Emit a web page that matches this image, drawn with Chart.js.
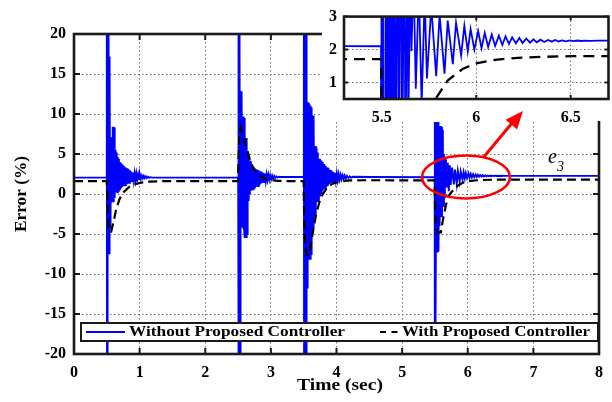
<!DOCTYPE html>
<html><head><meta charset="utf-8">
<script src="https://cdn.jsdelivr.net/npm/chart.js@4.4.1/dist/chart.umd.min.js"></script>
<style>
html,body{margin:0;padding:0;background:#fff;}
#wrap{position:relative;width:612px;height:402px;overflow:hidden;}
#wrap canvas{position:absolute;left:0;top:0;}
</style></head><body>
<div id="wrap"><canvas id="main" width="612" height="402"></canvas><canvas id="inset" width="612" height="402"></canvas></div>
<script>
// ---------------- data ----------------
const xTicks = [0, 1, 2, 3, 4, 5, 6, 7, 8];
const yTicks = [-20, -15, -10, -5, 0, 5, 10, 15, 20];
const insetXTicks = [5.5, 6, 6.5];
const insetYTicks = [1, 2, 3];
const seriesNames = ['Without Proposed Controller', 'With Proposed Controller'];
const xTitle = 'Time (sec)';
const yTitle = 'Error (%)';

// "Without Proposed Controller" (blue), [time, error %]
const blueSteady1 = [[0, 2.05], [0.499, 2.05]];
const blueEvent1 = [[0.500,20],[0.503,-20],[0.506,20],[0.509,-20],[0.512,20],[0.515,-20],[0.518,20],[0.521,-7.4],[0.524,20],[0.527,-7.4],[0.530,17.2],[0.534,-7.4],[0.538,17.2],[0.542,-5],[0.546,17.2],[0.550,-4.2],[0.555,7.1],[0.560,-2],[0.566,7.1],[0.572,-0.9],[0.578,7.0],[0.584,-0.9],[0.590,8.4],[0.596,-0.9],[0.602,8.4],[0.608,-0.8],[0.614,8.3],[0.620,-0.5],[0.627,5.5],[0.634,0.2],[0.641,5.2],[0.648,0.3],[0.655,4.6],[0.662,0.2],[0.669,4.6],[0.676,0.4],[0.684,4.4],[0.692,0.6],[0.700,4.0],[0.708,0.8],[0.716,3.9],[0.724,0.8],[0.733,3.7],[0.742,0.9],[0.751,3.5],[0.760,1.0],[0.769,3.4],[0.779,1.1],[0.789,3.3],[0.799,1.2],[0.809,3.2],[0.819,1.3],[0.830,3.1],[0.841,1.4],[0.852,2.95],[0.863,1.5],[0.875,2.8],[0.887,1.6],[0.899,2.7],[0.911,1.7],[0.924,2.6],[0.937,1.75],[0.950,2.55],[0.963,1.8],[0.977,2.45],[0.991,1.85],[1.005,2.4],[1.019,1.9],[1.034,2.3],[1.049,1.95],[1.064,2.25],[1.079,1.97],[1.095,2.2],[1.111,2.0],[1.128,2.15],[1.145,2.02],[1.165,2.1],[1.19,2.05]];
const blueSteady2 = [[1.3, 2.05], [2.502, 2.05]];
const blueEvent2 = [[2.503,20],[2.506,-20],[2.509,20],[2.512,-20],[2.515,20],[2.518,-20],[2.521,20],[2.524,-20],[2.527,20],[2.530,-20],[2.534,12.9],[2.538,-4.0],[2.542,12.9],[2.546,-4.0],[2.550,12.8],[2.554,-3.5],[2.558,12.5],[2.563,-4.0],[2.568,9.7],[2.573,-4.1],[2.578,9.7],[2.583,-4.1],[2.588,9.6],[2.593,-4.5],[2.598,9.5],[2.604,-5.5],[2.610,7.0],[2.616,-5.5],[2.622,7.0],[2.628,-5.5],[2.634,5.2],[2.640,-5.0],[2.646,5.0],[2.652,-0.75],[2.659,4.9],[2.666,-0.5],[2.673,4.2],[2.680,0.0],[2.688,4.1],[2.696,0.4],[2.704,3.7],[2.712,0.5],[2.720,3.5],[2.729,0.6],[2.738,3.4],[2.747,0.8],[2.756,3.2],[2.765,0.9],[2.775,3.1],[2.785,0.9],[2.795,3.0],[2.805,1.0],[2.815,2.95],[2.826,1.1],[2.837,2.85],[2.848,1.3],[2.860,2.75],[2.872,1.4],[2.884,2.65],[2.896,1.5],[2.909,2.55],[2.922,1.6],[2.935,2.45],[2.948,1.75],[2.962,2.4],[2.976,1.8],[2.990,2.35],[3.005,1.85],[3.020,2.3],[3.035,1.95],[3.050,2.25],[3.066,2.0],[3.082,2.2],[3.100,2.05],[3.12,2.15],[3.15,2.12]];
const blueSteady3 = [[3.3, 2.12], [3.502, 2.12]];
const blueEvent3 = [[3.503,20],[3.506,-20],[3.509,20],[3.512,-20],[3.515,20],[3.518,-20],[3.521,20],[3.524,-20],[3.527,20],[3.530,-20],[3.533,20],[3.536,-20],[3.540,20],[3.544,-11.7],[3.548,11.5],[3.552,-11.7],[3.556,11.5],[3.560,-11.5],[3.565,11.5],[3.570,-8.1],[3.575,11.4],[3.580,-8.1],[3.585,11.2],[3.590,-8.0],[3.595,11.0],[3.600,-8.1],[3.606,11.0],[3.612,-7.5],[3.618,10.8],[3.624,-4.4],[3.630,9.8],[3.636,-4.4],[3.642,9.8],[3.648,-4.3],[3.654,9.6],[3.660,-2.7],[3.666,6.0],[3.672,-2.7],[3.678,6.0],[3.684,-2.5],[3.690,5.8],[3.697,-1.0],[3.704,5.2],[3.711,-1.0],[3.718,5.0],[3.725,-0.9],[3.732,4.4],[3.740,-0.2],[3.748,4.4],[3.756,-0.2],[3.764,4.2],[3.772,0.0],[3.781,4.0],[3.790,0.4],[3.799,3.75],[3.808,0.6],[3.817,3.7],[3.827,0.7],[3.837,3.5],[3.847,0.9],[3.857,3.3],[3.868,1.0],[3.879,3.2],[3.890,1.25],[3.902,3.0],[3.914,1.35],[3.926,2.9],[3.938,1.45],[3.951,2.75],[3.964,1.55],[3.977,2.65],[3.990,1.7],[4.004,2.55],[4.018,1.75],[4.032,2.5],[4.047,1.8],[4.062,2.4],[4.077,1.85],[4.093,2.35],[4.109,1.9],[4.125,2.3],[4.142,1.95],[4.16,2.25],[4.18,2.0],[4.2,2.2],[4.22,2.05],[4.25,2.15]];
const blueSteady4 = [[4.5, 2.12], [5.496, 2.1]];
const blueEvent4 = [[5.497,9.0],[5.500,-17.5],[5.506,9.0],[5.509,-16.5],[5.523,9.0],[5.526,-7.3],[5.538,8.9],[5.541,-7.3],[5.551,9.0],[5.554,-7.2],[5.568,8.5],[5.571,-4.0],[5.586,8.5],[5.589,-2.9],[5.604,8.4],[5.607,-2.9],[5.621,8.0],[5.624,-1.5],[5.637,5.0],[5.640,-0.4],[5.651,4.5],[5.657,1.95],[5.668,4.3],[5.680,0.81],[5.696,3.9],[5.711,0.35],[5.727,3.6],[5.739,1.12],[5.762,3.3],[5.788,1.19],[5.806,3.05],[5.832,1.27],[5.849,2.88],[5.876,1.56],[5.893,2.81],[5.920,1.82],[5.937,2.72],[5.955,1.95],[5.970,2.62],[5.990,2.0],[6.010,2.56],[6.028,2.04],[6.045,2.51],[6.063,2.08],[6.082,2.46],[6.100,2.11],[6.120,2.42],[6.138,2.14],[6.155,2.40],[6.173,2.17],[6.190,2.37],[6.210,2.19],[6.228,2.35],[6.245,2.20],[6.265,2.33],[6.285,2.21],[6.303,2.31],[6.320,2.22],[6.340,2.30],[6.360,2.23],[6.380,2.29],[6.400,2.24],[6.418,2.29],[6.435,2.245],[6.455,2.28],[6.475,2.25],[6.495,2.28],[6.515,2.255],[6.535,2.275],[6.555,2.26],[6.575,2.27],[6.600,2.265],[6.65,2.27]];
const blueSteady5 = [[8.0, 2.27]];

// "With Proposed Controller" (black dashed), [time, error %]
const dashedSteady1 = [[0, 1.6], [0.499, 1.6]];
const dashedEvent1 = [[0.510,-1.0],[0.525,-4.0],[0.545,-4.7],[0.566,-4.7],[0.60,-3.6],[0.64,-2.0],[0.69,-0.7],[0.74,0.1],[0.79,0.5],[0.85,0.95],[0.94,1.25],[1.04,1.45],[1.15,1.55],[1.3,1.6]];
const dashedSteady2 = [[2.499, 1.6]];
const dashedEvent2 = [[2.505,4.0],[2.52,7.6],[2.54,8.3],[2.56,7.7],[2.60,6.6],[2.64,5.5],[2.69,4.0],[2.74,3.1],[2.80,2.4],[2.89,2.0],[3.0,1.75],[3.1,1.65],[3.2,1.62]];
const dashedSteady3 = [[3.499, 1.62]];
const dashedEvent3 = [[3.505,-2.0],[3.52,-6.0],[3.545,-7.6],[3.575,-7.7],[3.60,-6.8],[3.64,-4.8],[3.69,-2.5],[3.74,-1.0],[3.79,0.0],[3.86,0.8],[3.94,1.3],[4.05,1.55],[4.2,1.7],[4.4,1.72]];
const dashedSteady4 = [[5.496, 1.71]];
const dashedEvent4 = [[5.502,-2.0],[5.52,-4.4],[5.55,-4.8],[5.59,-4.8],[5.62,-3.3],[5.67,-1.3],[5.72,-0.1],[5.76,0.3],[5.79,0.55],[5.85,1.07],[5.93,1.42],[6.0,1.58],[6.1,1.69],[6.22,1.75],[6.36,1.78],[6.5,1.80]];
const dashedSteady5 = [[8.0, 1.8]];

// --------------- build series -------------
const toPts = arr => arr.map(p => ({x: p[0], y: p[1]}));
const bluePts = toPts([].concat(blueSteady1, blueEvent1, blueSteady2, blueEvent2, blueSteady3, blueEvent3, blueSteady4, blueEvent4, blueSteady5));
const dashedPts = toPts([].concat(dashedSteady1, dashedEvent1, dashedSteady2, dashedEvent2, dashedSteady3, dashedEvent3, dashedSteady4, dashedEvent4, dashedSteady5));

const SERIF = '"Liberation Serif", "Times New Roman", serif';
const tickFont = {family: SERIF, weight: 'bold', size: 16};
const plainLabel = v => String(v);

function fitText(ctx, text, x, y, targetW, font, align) {
  ctx.save();
  ctx.font = font;
  const w = ctx.measureText(text).width;
  const sx = targetW / w;
  ctx.translate(x, y);
  ctx.scale(sx, 1);
  ctx.textBaseline = 'middle';
  ctx.textAlign = 'left';
  let ox = 0;
  if (align === 'center') ox = -w / 2;
  ctx.fillText(text, ox, 0);
  ctx.restore();
}

function drawFrame(chart, tickLen, lw) {
  const {ctx, chartArea: a, scales} = chart;
  ctx.save();
  ctx.strokeStyle = '#1a1a1a';
  ctx.lineWidth = lw;
  ctx.beginPath();
  scales.x.ticks.forEach(t => {
    const px = scales.x.getPixelForValue(t.value);
    ctx.moveTo(px, a.bottom); ctx.lineTo(px, a.bottom - tickLen);
    ctx.moveTo(px, a.top); ctx.lineTo(px, a.top + tickLen);
  });
  scales.y.ticks.forEach(t => {
    const py = scales.y.getPixelForValue(t.value);
    ctx.moveTo(a.left, py); ctx.lineTo(a.left + tickLen, py);
    ctx.moveTo(a.right, py); ctx.lineTo(a.right - tickLen, py);
  });
  ctx.stroke();
  ctx.lineWidth = lw + 0.6;
  ctx.strokeRect(a.left, a.top, a.right - a.left, a.bottom - a.top);
  ctx.restore();
}

const gridOpts = {color: '#6e6e6e', lineWidth: 1, drawTicks: false};
const borderOpts = {display: false, dash: [1.5, 2.5]};

// --------------- main chart ----------------
const mainPlugin = {
  id: 'mainDeco',
  afterDatasetsDraw(chart) {
    const ctx = chart.ctx;
    ctx.save();
    ctx.fillStyle = '#fff';
    ctx.fillRect(81, 323, 517, 18);
    ctx.strokeStyle = '#1a1a1a';
    ctx.lineWidth = 2;
    ctx.strokeRect(81, 323, 517, 18);
    ctx.strokeStyle = '#0000ff';
    ctx.lineWidth = 1.8;
    ctx.beginPath(); ctx.moveTo(86, 332); ctx.lineTo(125, 332); ctx.stroke();
    ctx.fillStyle = '#000';
    fitText(ctx, seriesNames[0], 129, 332.5, 216, 'bold 15px ' + SERIF);
    ctx.strokeStyle = '#000';
    ctx.lineWidth = 2;
    ctx.setLineDash([6, 5.5]);
    ctx.beginPath(); ctx.moveTo(380, 332); ctx.lineTo(398, 332); ctx.stroke();
    ctx.setLineDash([]);
    fitText(ctx, seriesNames[1], 402, 332.5, 188, 'bold 15px ' + SERIF);
    ctx.restore();
  },
  afterDraw(chart) {
    drawFrame(chart, 6, 2);
    const ctx = chart.ctx;
    ctx.save();
    ctx.fillStyle = '#000';
    fitText(ctx, xTitle, 340, 386, 86, 'bold 17px ' + SERIF, 'center');
    ctx.translate(22, 194);
    ctx.rotate(-Math.PI / 2);
    fitText(ctx, yTitle, 0, 0, 76, 'bold 17px ' + SERIF, 'center');
    ctx.restore();
  }
};

new Chart(document.getElementById('main'), {
  type: 'line',
  data: {datasets: [
    {label: seriesNames[1], data: dashedPts, borderColor: '#000', borderWidth: 2.2, borderDash: [9, 5], pointRadius: 0, fill: false, tension: 0, order: 1},
    {label: seriesNames[0], data: bluePts, borderColor: '#0000ff', borderWidth: 1.9, pointRadius: 0, fill: false, tension: 0, order: 2}
  ]},
  options: {
    responsive: false, animation: false, devicePixelRatio: 1,
    layout: {padding: {top: 34, right: 5, left: 0, bottom: 0}},
    plugins: {legend: {display: false}, tooltip: {enabled: false}},
    scales: {
      x: {type: 'linear', min: 0, max: 8,
        afterBuildTicks: s => { s.ticks = xTicks.map(v => ({value: v})); },
        afterFit: s => { s.height = 48; },
        grid: gridOpts, border: borderOpts,
        ticks: {padding: 9, color: '#000', font: tickFont, maxRotation: 0, autoSkip: false, callback: plainLabel}},
      y: {type: 'linear', min: -20, max: 20,
        afterBuildTicks: s => { s.ticks = yTicks.map(v => ({value: v})); },
        afterFit: s => { s.width = 74; },
        grid: gridOpts, border: borderOpts,
        ticks: {padding: 8, color: '#000', font: tickFont, autoSkip: false, callback: plainLabel}}
    }
  },
  plugins: [mainPlugin]
});

// --------------- inset chart ---------------
const insetPlugin = {
  id: 'insetDeco',
  beforeDraw(chart) {
    const ctx = chart.ctx;
    ctx.save();
    ctx.fillStyle = '#fff';
    ctx.fillRect(322, 0, 290, 121);
    ctx.restore();
  },
  afterDraw(chart) {
    drawFrame(chart, 4, 2);
    const ctx = chart.ctx;
    ctx.save();
    ctx.strokeStyle = '#ff0000';
    ctx.lineWidth = 2.6;
    ctx.beginPath();
    ctx.ellipse(466, 177, 44, 21.5, 0, 0, Math.PI * 2);
    ctx.stroke();
    ctx.lineWidth = 3;
    ctx.beginPath(); ctx.moveTo(483, 158); ctx.lineTo(512, 123); ctx.stroke();
    const tx = 523, ty = 111, ang = Math.atan2(ty - 158, tx - 483);
    const L = 18, W = 7.5;
    ctx.fillStyle = '#ff0000';
    ctx.beginPath();
    ctx.moveTo(tx, ty);
    ctx.lineTo(tx - L * Math.cos(ang) + W * Math.sin(ang), ty - L * Math.sin(ang) - W * Math.cos(ang));
    ctx.lineTo(tx - L * Math.cos(ang) - W * Math.sin(ang), ty - L * Math.sin(ang) + W * Math.cos(ang));
    ctx.closePath(); ctx.fill();
    ctx.fillStyle = '#000';
    ctx.textBaseline = 'alphabetic';
    ctx.font = 'italic 20px ' + SERIF;
    ctx.fillText('e', 548, 163);
    ctx.font = 'italic 14px ' + SERIF;
    ctx.fillText('3', 557, 171);
    ctx.restore();
  }
};

new Chart(document.getElementById('inset'), {
  type: 'line',
  data: {datasets: [
    {label: seriesNames[1], data: dashedPts, borderColor: '#000', borderWidth: 2.3, borderDash: [11, 7], pointRadius: 0, fill: false, tension: 0, order: 1},
    {label: seriesNames[0], data: bluePts, borderColor: '#0000ff', borderWidth: 1.8, pointRadius: 0, fill: false, tension: 0, order: 2}
  ]},
  options: {
    responsive: false, animation: false, devicePixelRatio: 1,
    events: [],
    layout: {padding: {top: 9, right: 3.5, left: 0, bottom: 0}},
    plugins: {legend: {display: false}, tooltip: {enabled: false}},
    scales: {
      x: {type: 'linear', min: 5.3, max: 6.7,
        afterBuildTicks: s => { s.ticks = insetXTicks.map(v => ({value: v})); },
        afterFit: s => { s.height = 303; },
        grid: gridOpts, border: borderOpts,
        ticks: {padding: 9, color: '#000', font: tickFont, maxRotation: 0, autoSkip: false, callback: plainLabel}},
      y: {type: 'linear', min: 0.5, max: 3,
        afterBuildTicks: s => { s.ticks = insetYTicks.map(v => ({value: v})); },
        afterFit: s => { s.width = 344; },
        grid: gridOpts, border: borderOpts,
        ticks: {padding: 7, color: '#000', font: tickFont, autoSkip: false, callback: plainLabel}}
    }
  },
  plugins: [insetPlugin]
});
</script>
</body></html>
